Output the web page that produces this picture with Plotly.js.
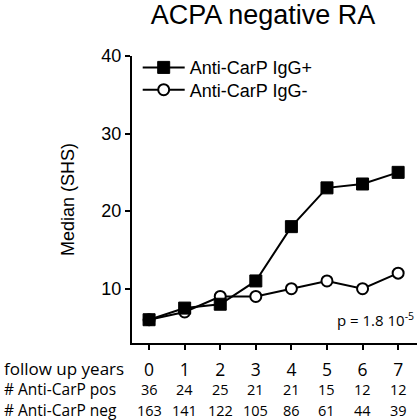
<!DOCTYPE html>
<html>
<head>
<meta charset="utf-8">
<script src="https://cdn.plot.ly/plotly-3.0.1.min.js"></script>
<style>html,body{margin:0;padding:0;background:#fff}#chart{width:420px;height:420px}</style>
</head>
<body>
<div id="chart"></div>
<script>
var years = [0, 1, 2, 3, 4, 5, 6, 7];
var medianPos = [6, 7.5, 8, 11, 18, 23, 23.5, 25];
var medianNeg = [6, 7, 9, 9, 10, 11, 10, 12];
var countPos = [36, 24, 25, 21, 21, 15, 12, 12];
var countNeg = [163, 141, 122, 105, 86, 61, 44, 39];
var seriesNames = ['Anti-CarP IgG+', 'Anti-CarP IgG-'];
var rowLabels = ['follow up years', '# Anti-CarP pos', '# Anti-CarP neg'];
var pText = 'p = 1.8 10<sup>-5</sup>';

var AR = 'Liberation Sans, Arial, sans-serif';
var OS = 'Open Sans, sans-serif';

var traces = [
  {x: years, y: medianNeg, name: seriesNames[1], type: 'scatter', mode: 'lines+markers',
   legend: 'legend2',
   line: {color: '#000', width: 2},
   marker: {symbol: 'circle', size: 11, color: '#fff', line: {color: '#000', width: 2}}},
  {x: years, y: medianPos, name: seriesNames[0], type: 'scatter', mode: 'lines+markers',
   legend: 'legend',
   line: {color: '#000', width: 2},
   marker: {symbol: 'square', size: 12, color: '#000', line: {color: '#000', width: 1}}}
];

var annotations = [];
annotations.push({xref: 'paper', yref: 'paper', x: -0.456, y: -0.09, xanchor: 'left', yanchor: 'middle',
  text: rowLabels[0], showarrow: false, font: {family: OS, size: 17, color: '#000'}});
annotations.push({xref: 'paper', yref: 'paper', x: -0.456, y: -0.162, xanchor: 'left', yanchor: 'middle',
  text: rowLabels[1], showarrow: false, font: {family: OS, size: 15.5, color: '#000'}});
annotations.push({xref: 'paper', yref: 'paper', x: -0.456, y: -0.234, xanchor: 'left', yanchor: 'middle',
  text: rowLabels[2], showarrow: false, font: {family: OS, size: 15.5, color: '#000'}});
for (var i = 0; i < years.length; i++) {
  annotations.push({xref: 'x', yref: 'paper', x: years[i], y: -0.162, xanchor: 'center', yanchor: 'middle',
    text: String(countPos[i]), showarrow: false, font: {family: OS, size: 14.5, color: '#000'}});
  annotations.push({xref: 'x', yref: 'paper', x: years[i], y: -0.234, xanchor: 'center', yanchor: 'middle',
    text: String(countNeg[i]), showarrow: false, font: {family: OS, size: 14.5, color: '#000'}});
}
annotations.push({xref: 'paper', yref: 'paper', x: 0.995, y: 0.04, xanchor: 'right', yanchor: 'bottom',
  text: pText, showarrow: false, font: {family: OS, size: 15, color: '#000'}});

var legendBase = {xanchor: 'left', yanchor: 'middle', bgcolor: 'rgba(0,0,0,0)',
  itemwidth: 42, font: {family: AR, size: 18, color: '#000'}};

var layout = {
  width: 420, height: 420,
  margin: {l: 132, r: 3, t: 56, b: 77, pad: 0},
  paper_bgcolor: '#fff', plot_bgcolor: '#fff',
  showlegend: true,
  title: {text: 'ACPA negative RA', font: {family: AR, size: 27, color: '#000'},
          xref: 'container', x: 263 / 420, xanchor: 'center',
          yref: 'container', y: 1 - 15 / 420, yanchor: 'middle'},
  xaxis: {range: [-0.48, 7.53], tickvals: years, ticktext: years.map(String),
          showgrid: false, zeroline: false, showline: true, linecolor: '#000', linewidth: 2,
          ticks: 'outside', ticklen: 5, tickwidth: 2, tickcolor: '#000', ticklabelstandoff: 5,
          tickfont: {family: OS, size: 17.5, color: '#000'}, fixedrange: true},
  yaxis: {range: [3, 40], tickvals: [10, 20, 30, 40],
          showgrid: false, zeroline: false, showline: true, linecolor: '#000', linewidth: 2,
          ticks: 'outside', ticklen: 5, tickwidth: 2, tickcolor: '#000',
          tickfont: {family: AR, size: 18, color: '#000'},
          title: {text: 'Median (SHS)', font: {family: AR, size: 18, color: '#000'}, standoff: 22},
          fixedrange: true},
  legend: Object.assign({x: 0.02, y: (343 - 67.7) / 287}, legendBase),
  legend2: Object.assign({x: 0.02, y: (343 - 90) / 287}, legendBase),
  annotations: annotations
};

Plotly.newPlot('chart', traces, layout, {displayModeBar: false, staticPlot: true});
</script>
</body>
</html>
